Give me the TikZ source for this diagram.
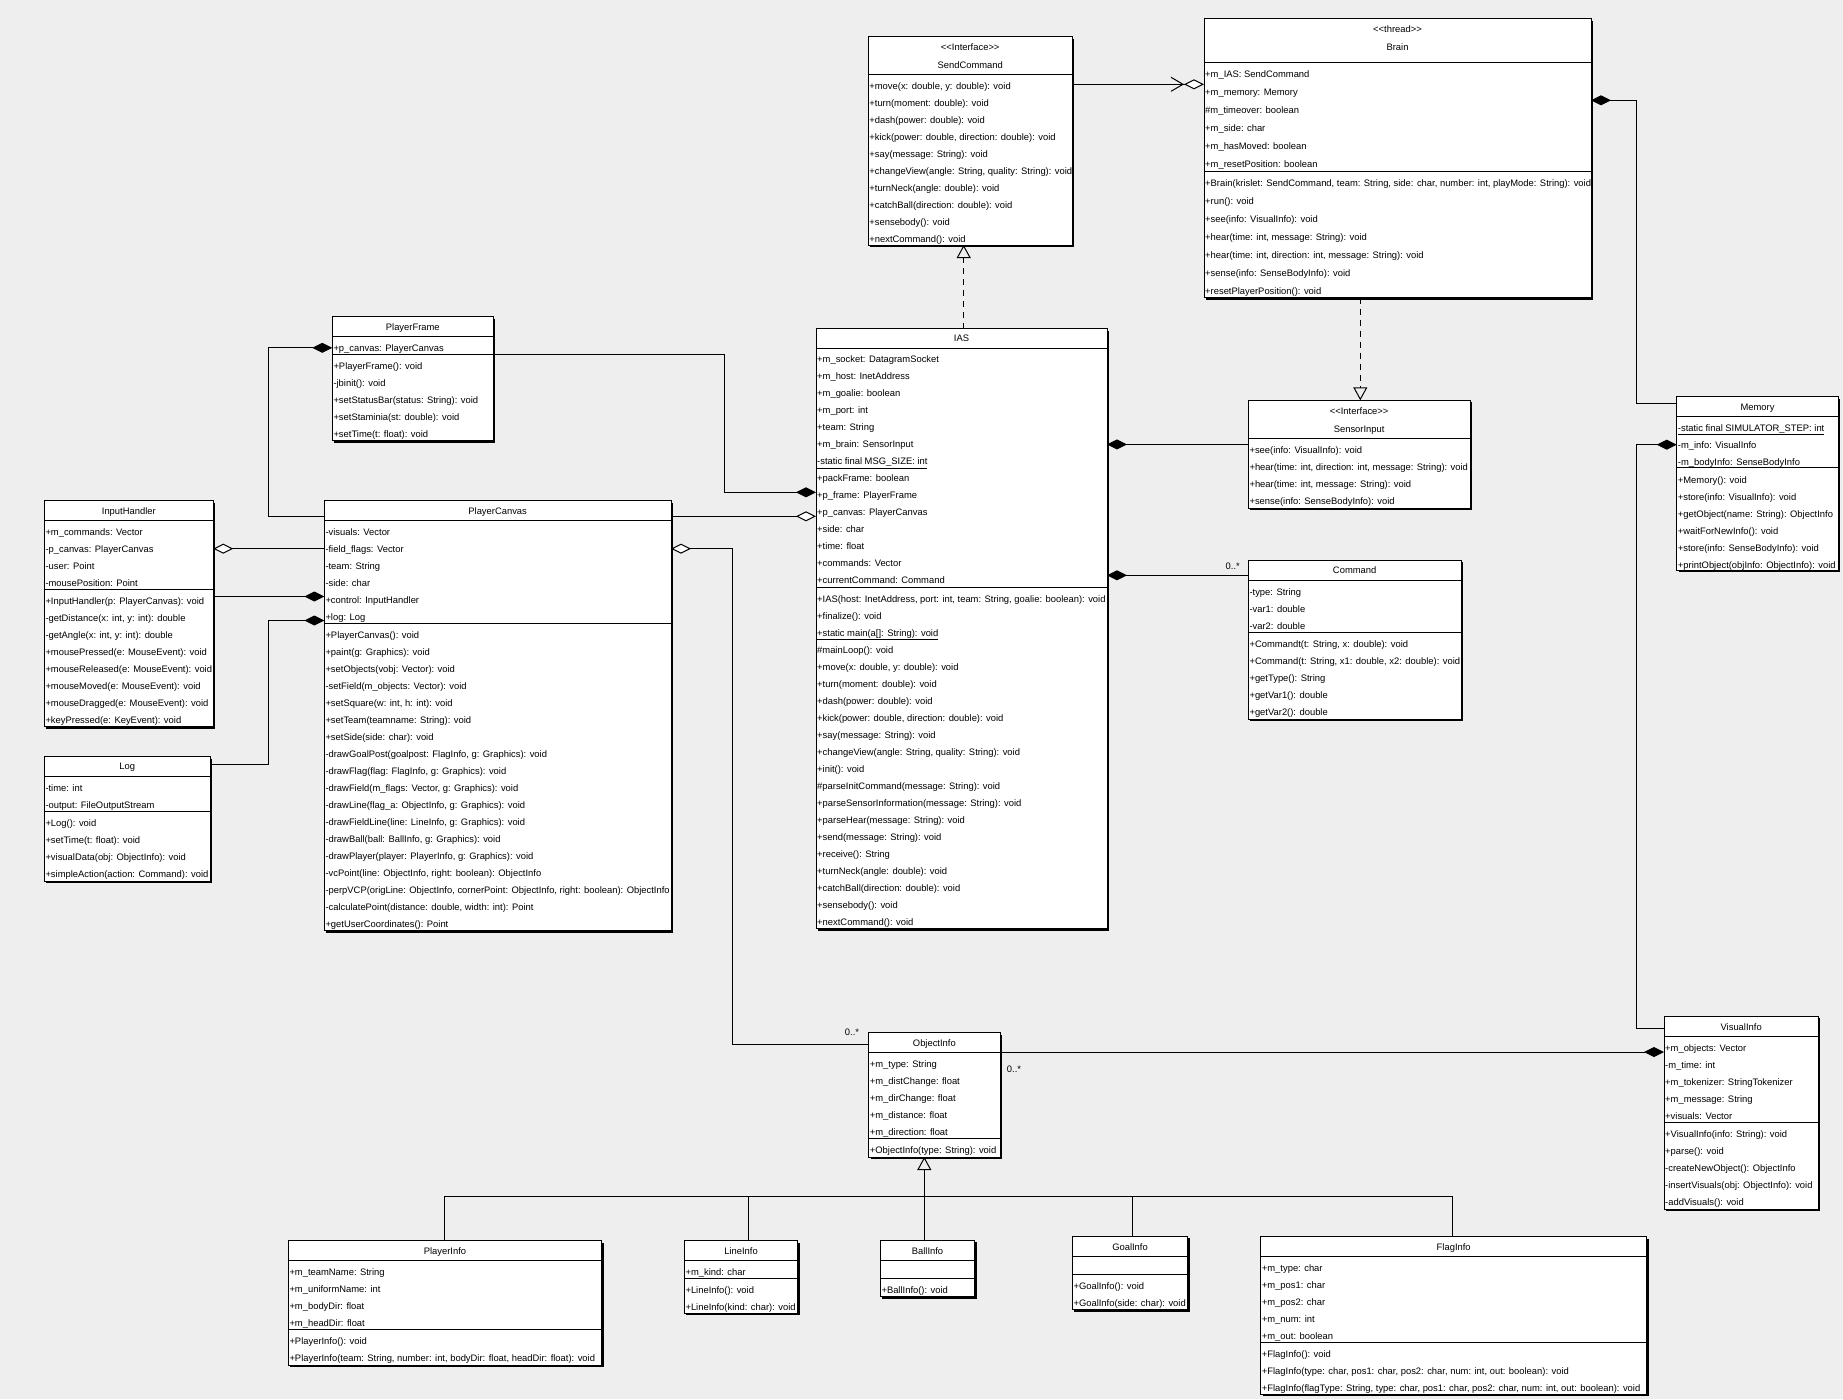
\documentclass[tikz,border=0pt]{standalone}
\usepackage{fontspec}
\setmainfont{Liberation Sans}
\usetikzlibrary{arrows.meta}
\definecolor{canvasgrey}{RGB}{238,238,238}
\newcommand\umlfont{\fontsize{9.4}{11}\selectfont}
\newcommand\umlbox[6]{% name, left, top, right, bottom, compartment lines
  \fill[boxshadow] (#2+2,#3+2) rectangle (#4+2,#5+2); % drop shadow
  \node[classbox, minimum width=#4-#2, minimum height=#5-#3] (#1) at (#2,#3) {};
  \foreach \sep in {#6}{
    \draw[line width=1pt] (#2,\sep) -- (#4,\sep);
  }
}
\newcommand\umlhead[4]{% box, tag, centre y, text
  \node[headtext] (#1-#2) at (#1.north |- 0,#3) {#4};
}
\newcommand\umlrows[5]{% row prefix, left x, first row y, row pitch, rows
  \foreach \txt [count=\k from 0] in {#5}{
    \node[member] (#1\k) at (#2+1,#3+#4*\k) {\txt};
  }
}
\begin{document}
\begin{tikzpicture}[x=1pt,y=-1pt,
    classbox/.style={draw,line width=1pt,fill=white,anchor=north west,inner sep=0pt,outer sep=0pt},
    boxshadow/.style={fill=black},
    member/.style={anchor=west,inner sep=0pt,text height=6.8pt,text depth=0pt,font=\umlfont},
    headtext/.style={inner sep=0pt,text height=6.8pt,text depth=0pt,font=\umlfont},
    mult/.style={inner sep=0pt,font=\umlfont},
    compo/.style={line width=1pt,-{Diamond[length=20pt,width=10pt]}},
    aggr/.style={line width=1pt,-{Diamond[length=20pt,width=10pt,fill=white]}},
    navagg/.style={line width=1pt,-{Straight Barb[length=12pt,width=14pt] Diamond[length=20pt,width=10pt,fill=white]}},
    realize/.style={line width=1pt,dash pattern=on 6pt off 5pt,-{Triangle[open,length=13pt,width=14pt]}},
    general/.style={line width=1pt,-{Triangle[open,length=13pt,width=14pt]}}]
  \fill[canvasgrey] (0,0) rectangle (1843,1399);
  \useasboundingbox (0,0) rectangle (1843,1399);

  % interfaces and the brain
  \umlbox{SendCommand}{868.2}{36.7}{1072.2}{245}{74.3}
  \umlhead{SendCommand}{st}{47}{<\kern0pt<Interface>\kern0pt>}
  \umlhead{SendCommand}{title}{64.7}{SendCommand}
  \umlrows{SendCommand-m}{868.2}{86}{17}{
    {+move(x: double, y: double): void},
    +turn(moment: double): void,
    +dash(power: double): void,
    {+kick(power: double, direction: double): void},
    +say(message: String): void,
    {+changeView(angle: String, quality: String): void},
    +turnNeck(angle: double): void,
    +catchBall(direction: double): void,
    +sensebody(): void,
    +nextCommand(): void}

  \umlbox{Brain}{1204}{18.7}{1591}{297.7}{62.3,171.3}
  \umlhead{Brain}{st}{29}{<\kern0pt<thread>\kern0pt>}
  \umlhead{Brain}{title}{47}{Brain}
  \umlrows{Brain-a}{1204}{73.7}{18}{
    +m\_IAS: SendCommand,
    +m\_memory: Memory,
    \#m\_timeover: boolean,
    +m\_side: char,
    +m\_hasMoved: boolean,
    +m\_resetPosition: boolean}
  \umlrows{Brain-m}{1204}{183}{18}{
    {+Brain(krislet: SendCommand, team: String, side: char, number: int, playMode: String): void},
    +run(): void,
    +see(info: VisualInfo): void,
    {+hear(time: int, message: String): void},
    {+hear(time: int, direction: int, message: String): void},
    +sense(info: SenseBodyInfo): void,
    +resetPlayerPosition(): void}

  \umlbox{SensorInput}{1248.3}{400.3}{1470}{508}{438.3}
  \umlhead{SensorInput}{st}{410.7}{<\kern0pt<Interface>\kern0pt>}
  \umlhead{SensorInput}{title}{428.7}{SensorInput}
  \umlrows{SensorInput-m}{1248.3}{449.7}{17}{
    +see(info: VisualInfo): void,
    {+hear(time: int, direction: int, message: String): void},
    {+hear(time: int, message: String): void},
    +sense(info: SenseBodyInfo): void}

  % the agent
  \umlbox{IAS}{816}{328.7}{1107}{928.9}{348.5,587.3}
  \umlhead{IAS}{title}{338.2}{IAS}
  \umlrows{IAS-a}{816}{359.5}{17}{
    +m\_socket: DatagramSocket,
    +m\_host: InetAddress,
    +m\_goalie: boolean,
    +m\_port: int,
    +team: String,
    +m\_brain: SensorInput,
    \underline{-static final MSG\_SIZE: int},
    +packFrame: boolean,
    +p\_frame: PlayerFrame,
    +p\_canvas: PlayerCanvas,
    +side: char,
    +time: float,
    +commands: Vector,
    +currentCommand: Command}
  \umlrows{IAS-m}{816}{598.8}{17}{
    {+IAS(host: InetAddress, port: int, team: String, goalie: boolean): void},
    +finalize(): void,
    \underline{+static main(a[]: String): void},
    \#mainLoop(): void,
    {+move(x: double, y: double): void},
    +turn(moment: double): void,
    +dash(power: double): void,
    {+kick(power: double, direction: double): void},
    +say(message: String): void,
    {+changeView(angle: String, quality: String): void},
    +init(): void,
    \#parseInitCommand(message: String): void,
    +parseSensorInformation(message: String): void,
    +parseHear(message: String): void,
    +send(message: String): void,
    +receive(): String,
    +turnNeck(angle: double): void,
    +catchBall(direction: double): void,
    +sensebody(): void,
    +nextCommand(): void}

  \umlbox{Command}{1248.3}{560.3}{1461}{719}{580.3,632.3}
  \umlhead{Command}{title}{570.3}{Command}
  \umlrows{Command-a}{1248.3}{592}{17}{-type: String, -var1: double, -var2: double}
  \umlrows{Command-m}{1248.3}{643.7}{17}{
    {+Commandt(t: String, x: double): void},
    {+Command(t: String, x1: double, x2: double): void},
    +getType(): String,
    +getVar1(): double,
    +getVar2(): double}

  % memory and what it holds
  \umlbox{Memory}{1676.7}{396.7}{1838.3}{570}{416.3,467.3}
  \umlhead{Memory}{title}{407.3}{Memory}
  \umlrows{Memory-a}{1676.7}{428}{17}{
    \underline{-static final SIMULATOR\_STEP: int},
    -m\_info: VisualInfo,
    -m\_bodyInfo: SenseBodyInfo}
  \umlrows{Memory-m}{1676.7}{479.7}{17}{
    +Memory(): void,
    +store(info: VisualInfo): void,
    +getObject(name: String): ObjectInfo,
    +waitForNewInfo(): void,
    +store(info: SenseBodyInfo): void,
    +printObject(objInfo: ObjectInfo): void}

  \umlbox{VisualInfo}{1664}{1016.3}{1818.3}{1209}{1036.7,1122.3}
  \umlhead{VisualInfo}{title}{1026.7}{VisualInfo}
  \umlrows{VisualInfo-a}{1664}{1047.7}{17}{
    +m\_objects: Vector,
    -m\_time: int,
    +m\_tokenizer: StringTokenizer,
    +m\_message: String,
    +visuals: Vector}
  \umlrows{VisualInfo-m}{1664}{1134}{17}{
    +VisualInfo(info: String): void,
    +parse(): void,
    -createNewObject(): ObjectInfo,
    -insertVisuals(obj: ObjectInfo): void,
    -addVisuals(): void}

  \umlbox{ObjectInfo}{868.7}{1032.7}{1000}{1157}{1052.3,1138}
  \umlhead{ObjectInfo}{title}{1042.7}{ObjectInfo}
  \umlrows{ObjectInfo-a}{868.7}{1063.7}{17}{
    +m\_type: String,
    +m\_distChange: float,
    +m\_dirChange: float,
    +m\_distance: float,
    +m\_direction: float}
  \umlrows{ObjectInfo-m}{868.7}{1149.7}{17}{+ObjectInfo(type: String): void}

  % subclasses of ObjectInfo
  \umlbox{PlayerInfo}{288.3}{1240.7}{601.7}{1365}{1260.3,1329.3}
  \umlhead{PlayerInfo}{title}{1251}{PlayerInfo}
  \umlrows{PlayerInfo-a}{288.3}{1271.7}{17}{
    +m\_teamName: String,
    +m\_uniformName: int,
    +m\_bodyDir: float,
    +m\_headDir: float}
  \umlrows{PlayerInfo-m}{288.3}{1340.7}{17}{
    +PlayerInfo(): void,
    {+PlayerInfo(team: String, number: int, bodyDir: float, headDir: float): void}}

  \umlbox{LineInfo}{684.3}{1240.7}{797.7}{1313.3}{1260.3,1278.7}
  \umlhead{LineInfo}{title}{1251}{LineInfo}
  \umlrows{LineInfo-a}{684.3}{1271.7}{17}{+m\_kind: char}
  \umlrows{LineInfo-m}{684.3}{1289.7}{17}{+LineInfo(): void, +LineInfo(kind: char): void}

  \umlbox{BallInfo}{880.3}{1240.3}{974.7}{1296.7}{1260.3,1278.7}
  \umlhead{BallInfo}{title}{1251}{BallInfo}
  \umlrows{BallInfo-m}{880.3}{1289.7}{17}{+BallInfo(): void}

  \umlbox{GoalInfo}{1072.3}{1236.3}{1187.7}{1309.7}{1256.3,1274.7}
  \umlhead{GoalInfo}{title}{1246.7}{GoalInfo}
  \umlrows{GoalInfo-m}{1072.3}{1286}{17}{+GoalInfo(): void, +GoalInfo(side: char): void}

  \umlbox{FlagInfo}{1260.7}{1236.7}{1646.7}{1394}{1256.7,1342.7}
  \umlhead{FlagInfo}{title}{1246.7}{FlagInfo}
  \umlrows{FlagInfo-a}{1260.7}{1268.3}{17}{
    +m\_type: char,
    +m\_pos1: char,
    +m\_pos2: char,
    +m\_num: int,
    +m\_out: boolean}
  \umlrows{FlagInfo-m}{1260.7}{1354}{17}{
    +FlagInfo(): void,
    {+FlagInfo(type: char, pos1: char, pos2: char, num: int, out: boolean): void},
    {+FlagInfo(flagType: String, type: char, pos1: char, pos2: char, num: int, out: boolean): void}}

  % user interface side
  \umlbox{PlayerFrame}{332.3}{316.6}{493.3}{440.7}{336.5,354.6}
  \umlhead{PlayerFrame}{title}{326.7}{PlayerFrame}
  \umlrows{PlayerFrame-a}{332.3}{347.8}{17}{+p\_canvas: PlayerCanvas}
  \umlrows{PlayerFrame-m}{332.3}{365.8}{17}{
    +PlayerFrame(): void,
    -jbinit(): void,
    +setStatusBar(status: String): void,
    +setStaminia(st: double): void,
    +setTime(t: float): void}

  \umlbox{PlayerCanvas}{324.3}{500.7}{671}{930.7}{520.7,623.3}
  \umlhead{PlayerCanvas}{title}{510.7}{PlayerCanvas}
  \umlrows{PlayerCanvas-a}{324.3}{531.7}{17}{
    -visuals: Vector,
    -field\_flags: Vector,
    -team: String,
    -side: char,
    +control: InputHandler,
    +log: Log}
  \umlrows{PlayerCanvas-m}{324.3}{634.7}{17}{
    +PlayerCanvas(): void,
    +paint(g: Graphics): void,
    +setObjects(vobj: Vector): void,
    -setField(m\_objects: Vector): void,
    {+setSquare(w: int, h: int): void},
    +setTeam(teamname: String): void,
    +setSide(side: char): void,
    {-drawGoalPost(goalpost: FlagInfo, g: Graphics): void},
    {-drawFlag(flag: FlagInfo, g: Graphics): void},
    {-drawField(m\_flags: Vector, g: Graphics): void},
    {-drawLine(flag\_a: ObjectInfo, g: Graphics): void},
    {-drawFieldLine(line: LineInfo, g: Graphics): void},
    {-drawBall(ball: BallInfo, g: Graphics): void},
    {-drawPlayer(player: PlayerInfo, g: Graphics): void},
    {-vcPoint(line: ObjectInfo, right: boolean): ObjectInfo},
    {-perpVCP(origLine: ObjectInfo, cornerPoint: ObjectInfo, right: boolean): ObjectInfo},
    {-calculatePoint(distance: double, width: int): Point},
    +getUserCoordinates(): Point}

  \umlbox{InputHandler}{44.3}{500.5}{213.3}{726.6}{520.5,589.7}
  \umlhead{InputHandler}{title}{510.7}{InputHandler}
  \umlrows{InputHandler-a}{44.3}{531.8}{17}{
    +m\_commands: Vector,
    -p\_canvas: PlayerCanvas,
    -user: Point,
    -mousePosition: Point}
  \umlrows{InputHandler-m}{44.3}{600.6}{17}{
    +InputHandler(p: PlayerCanvas): void,
    {-getDistance(x: int, y: int): double},
    {-getAngle(x: int, y: int): double},
    +mousePressed(e: MouseEvent): void,
    +mouseReleased(e: MouseEvent): void,
    +mouseMoved(e: MouseEvent): void,
    +mouseDragged(e: MouseEvent): void,
    +keyPressed(e: KeyEvent): void}

  \umlbox{Log}{44.3}{756.7}{210}{881.3}{776.7,811.3}
  \umlhead{Log}{title}{766.5}{Log}
  \umlrows{Log-a}{44.3}{787.6}{17}{-time: int, -output: FileOutputStream}
  \umlrows{Log-m}{44.3}{822.6}{17}{
    +Log(): void,
    +setTime(t: float): void,
    +visualData(obj: ObjectInfo): void,
    +simpleAction(action: Command): void}

  % bend points of the connectors
  \coordinate (frame-bend) at (724.3,354.6);
  \coordinate (canvas-bend) at (268.3,347.8);
  \coordinate (log-bend) at (268.3,620.5);
  \coordinate (object-bend) at (732.3,548.7);
  \coordinate (brain-bend) at (1636.5,100.3);
  \coordinate (memory-bend) at (1636.5,444.7);
  \coordinate (gen) at (924.3,1196);

  % associations
  \draw[navagg] (SendCommand.east |- 0,84.3) -- (Brain.west |- 0,84.3);
  \draw[realize] (963.7,0 |- IAS.north) -- (963.7,0 |- SendCommand.south);
  \draw[realize] (1360.3,0 |- Brain.south) -- (1360.3,0 |- SensorInput.north);
  \draw[compo] (SensorInput.west |- 0,444.4) -- (IAS.east |- 0,444.4);
  \draw[compo] (Command.west |- 0,575.3) -- (IAS.east |- 0,575.3);
  \node[mult,anchor=east] (cmd-many) at (1240,566) {0..*};
  \draw[compo] (PlayerFrame.east |- frame-bend) -- (frame-bend) |- (IAS.west |- 0,492.3);
  \draw[aggr] (PlayerCanvas.east |- 0,516.3) -- (IAS.west |- 0,516.3);
  \draw[compo] (PlayerCanvas.west |- 0,516.3) -| (canvas-bend) -- (PlayerFrame.west |- canvas-bend);
  \draw[aggr] (PlayerCanvas.west |- 0,548.7) -- (InputHandler.east |- 0,548.7);
  \draw[compo] (InputHandler.east |- 0,596.5) -- (PlayerCanvas.west |- 0,596.5);
  \draw[compo] (Log.east |- 0,764.3) -| (log-bend) -- (PlayerCanvas.west |- log-bend);
  \draw[aggr] (ObjectInfo.west |- 0,1044.3) -| (object-bend) -- (PlayerCanvas.east |- object-bend);
  \node[mult] (obj-many-l) at (852,1032.3) {0..*};
  \draw[compo] (ObjectInfo.east |- 0,1052) -- (VisualInfo.west |- 0,1052);
  \node[mult] (obj-many-r) at (1014,1069.7) {0..*};
  \draw[compo] (Memory.west |- 0,403.7) -| (brain-bend) -- (Brain.east |- brain-bend);
  \draw[compo] (VisualInfo.west |- 0,1028.7) -| (memory-bend) -- (Memory.west |- memory-bend);

  % generalisation tree
  \draw[general] (gen) -- (gen |- ObjectInfo.south);
  \draw[line width=1pt] (444.3,0 |- PlayerInfo.north) |- (1452.3,0 |- gen) -- (1452.3,0 |- FlagInfo.north);
  \foreach \sub/\gx in {LineInfo/748.3, BallInfo/924.3, GoalInfo/1132.3}
    \draw[line width=1pt] (\gx,0 |- gen) -- (\gx,0 |- \sub.north);
\end{tikzpicture}
\end{document}
